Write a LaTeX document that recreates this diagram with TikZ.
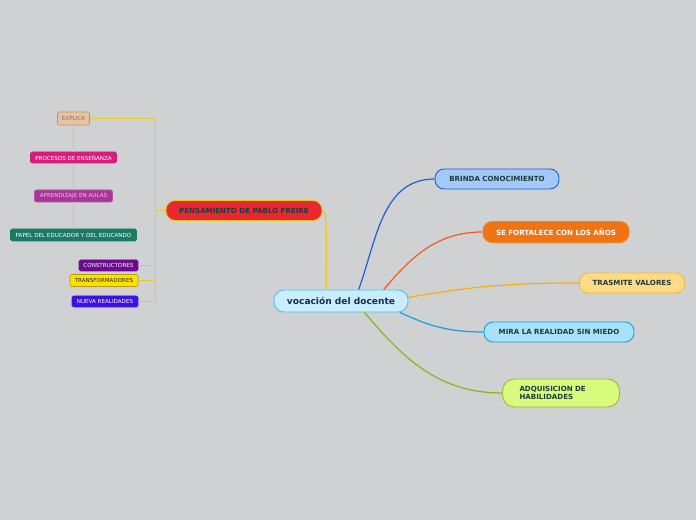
\documentclass[tikz,border=0pt]{standalone}
\usepackage{fontspec}
\setmainfont{DejaVu Sans}
\usepackage{xcolor}
\definecolor{paper}{HTML}{D0D1D3}
\definecolor{ink}{HTML}{1C3C3C}
\definecolor{navy}{HTML}{1A2A50}
\usetikzlibrary{calc,positioning}

\begin{document}
\begin{tikzpicture}[x=1bp, y=1bp,
    topic/.style={draw, line width=0.9bp, rounded corners=9bp, minimum height=20bp,
        inner sep=0pt, text=ink, font=\fontsize{7.1}{8.4}\selectfont\bfseries},
    tag/.style={draw, line width=0.6bp, rounded corners=1.5bp, minimum height=11bp,
        inner sep=0pt, text=white, font=\fontsize{5.6}{6.4}\selectfont},
    link/.style={line width=1.2bp},
    twig/.style={line width=1.2bp, draw=twigCol}]

    % Colors
    \definecolor{twigCol}{HTML}{EACA28}
    \definecolor{freireCol}{HTML}{E8C820}
    \definecolor{brindaCol}{HTML}{1D5FD3}
    \definecolor{fortCol}{HTML}{F05A23}
    \definecolor{valCol}{HTML}{F7B10E}
    \definecolor{miraCol}{HTML}{0FA2E2}
    \definecolor{habilCol}{HTML}{8BB517}
    \definecolor{docFill}{HTML}{C8EDFB}
    \definecolor{freireFill}{HTML}{E8272F}
    \definecolor{brindaFill}{HTML}{A5C8FA}
    \definecolor{fortFill}{HTML}{F07414}
    \definecolor{valFill}{HTML}{FFDB87}
    \definecolor{miraFill}{HTML}{A8E2FA}
    \definecolor{habilFill}{HTML}{D8FA7D}
    \definecolor{explicaFill}{HTML}{E8C3A3}
    \definecolor{explicaLine}{HTML}{B8926E}
    \definecolor{explicaText}{HTML}{8A6A5A}
    \definecolor{procesosFill}{HTML}{D91C7B}
    \definecolor{aulasFill}{HTML}{A8369A}
    \definecolor{aulasText}{HTML}{F0C0E0}
    \definecolor{papelFill}{HTML}{1B7A66}
    \definecolor{constrFill}{HTML}{6B0A8C}
    \definecolor{transfFill}{HTML}{FFE100}
    \definecolor{transfLine}{HTML}{B89B00}
    \definecolor{nuevaFill}{HTML}{3A12E6}

    % Canvas
    \fill[paper] (0,0) rectangle (696,520);
    \useasboundingbox (0,0) rectangle (696,520);

    % Central topic
    \node[topic, draw=miraCol!70, fill=docFill, text=navy, rounded corners=10bp,
        minimum width=134bp, minimum height=22bp, font=\fontsize{9.1}{10}\selectfont\bfseries]
        (docente) at (341,219) {vocación del docente};

    % Main branches
    \node[topic, fill=freireFill, draw=freireCol, minimum width=156bp] (freire) at (244,309.5) {PENSAMIENTO DE PABLO FREIRE};
    \node[topic, fill=brindaFill, draw=brindaCol, minimum width=124bp] (brinda) at (497,341) {BRINDA CONOCIMIENTO};
    \node[topic, fill=fortFill, draw=fortFill!90!white, text=white, minimum width=146bp, minimum height=21bp] (fortalece) at (556,288) {SE FORTALECE CON LOS AÑOS};
    \node[topic, fill=valFill, draw=valCol!90, minimum width=105bp] (valores) at (632,237) {TRASMITE VALORES};
    \node[topic, fill=miraFill, draw=miraCol, minimum width=150bp] (mira) at (559,188) {MIRA LA REALIDAD SIN MIEDO};
    \node[topic, fill=habilFill, draw=habilCol!90, minimum height=28bp, rounded corners=12bp,
        text width=83bp, inner xsep=17bp, align=left] (habil) at (561,127) {ADQUISICION DE\\HABILIDADES};

    % Freire sub-topics
    \node[tag, fill=explicaFill, draw=explicaLine, text=explicaText, minimum width=32bp, minimum height=13bp] (explica) at (73.5,401.5) {EXPLICA};
    \node[tag, fill=procesosFill, draw=procesosFill, minimum width=86bp] (procesos) at (73.5,362.5) {PROCESOS DE ENSEÑANZA};
    \node[tag, fill=aulasFill, draw=aulasFill!85!white, text=aulasText, minimum width=78bp, minimum height=12bp] (aulas) at (73.5,324) {APRENDIZAJE EN AULAS};
    \node[tag, fill=papelFill, draw=papelFill, minimum width=126bp, minimum height=12bp] (papel) at (73.5,285) {PAPEL DEL EDUCADOR Y DEL EDUCANDO};
    \node[tag, fill=constrFill, draw=constrFill, minimum width=59bp] (constructores) at (108.5,254.5) {CONSTRUCTORES};
    \node[tag, fill=transfFill, draw=transfLine, text=black!85, minimum width=68bp, minimum height=12bp] (transf) at (104,239.5) {TRANSFORMADORES};
    \node[tag, fill=nuevaFill, draw=nuevaFill, minimum width=66bp] (nueva) at (105,218.5) {NUEVA REALIDADES};

    % Freire tree
    \coordinate (spine) at (155.5,0);
    \draw[twig] (explica.east) -- (explica.east -| spine) -- (nueva.east -| spine) -- (nueva.east);
    \draw[twig] (freire.west) -- (freire.west -| spine);
    \foreach \n in {constructores, transf} {
        \draw[twig] (\n.east) -- (\n.east -| spine);
    }
    \draw[twig] (explica.south) -- (procesos.north);
    \draw[twig] (procesos.south) -- (aulas.north);
    \draw[twig] (aulas.south) -- (papel.north);

    % Branch connectors
    \draw[link, freireCol] (freire.east) .. controls +(5,0) and +(0,55) .. (docente.142);
    \draw[link, brindaCol] (docente.33) to[out=70, in=180] (brinda.west);
    \draw[link, fortCol] (docente.15) to[out=50, in=180] (fortalece.west);
    \draw[link, valCol] (docente.3) to[out=10, in=180] (valores.west);
    \draw[link, miraCol] (docente.-11) to[out=-25, in=180] (mira.west);
    \draw[link, habilCol] (docente.-26) to[out=-50, in=180] (habil.west);
\end{tikzpicture}
\end{document}
